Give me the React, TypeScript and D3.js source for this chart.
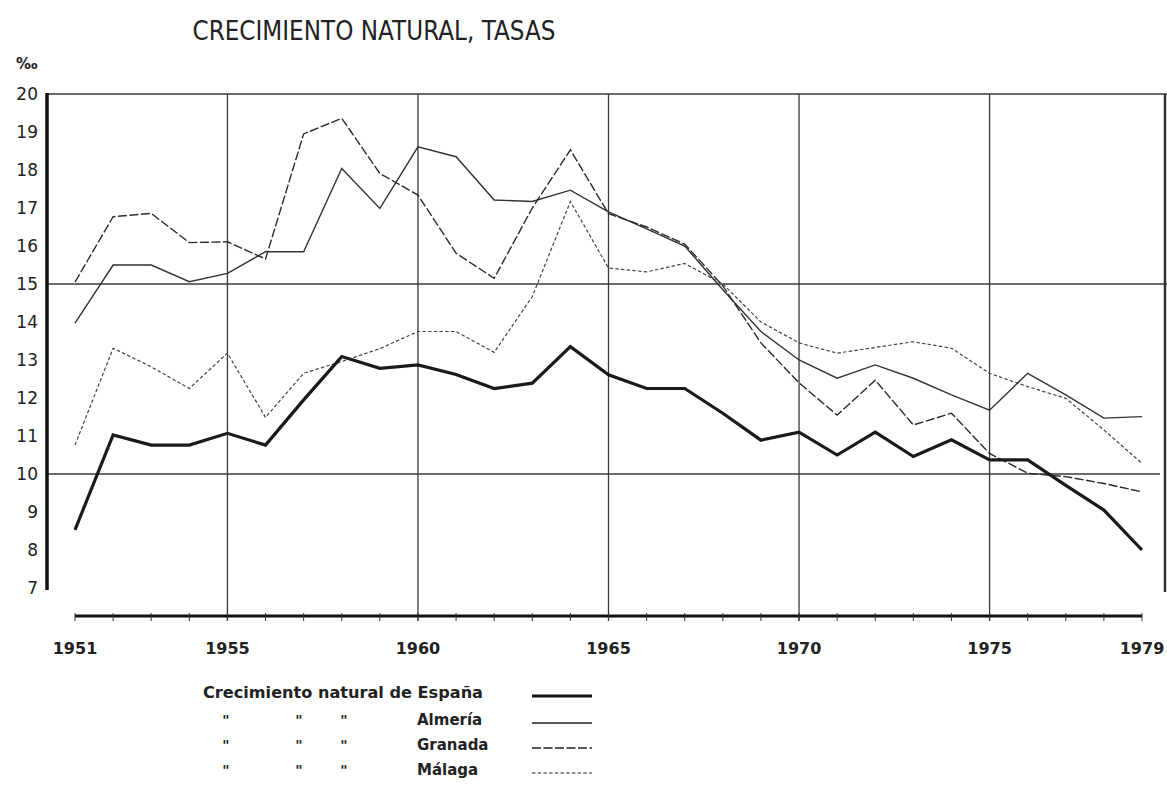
import React from "react";
import * as d3 from "d3";

const years: number[] = d3.range(1951, 1980);

const espana: number[] = [8.53, 11.03, 10.76, 10.76, 11.07, 10.76, 11.95, 13.09, 12.78, 12.87, 12.62, 12.25, 12.39, 13.35, 12.61, 12.25, 12.25, 11.6, 10.89, 11.1, 10.5, 11.1, 10.46, 10.9, 10.37, 10.37, 9.7, 9.05, 8.0];
const almeria: number[] = [13.97, 15.5, 15.5, 15.06, 15.28, 15.85, 15.85, 18.04, 16.99, 18.61, 18.35, 17.21, 17.17, 17.47, 16.9, 16.45, 16.0, 14.85, 13.75, 13.0, 12.52, 12.87, 12.52, 12.08, 11.68, 12.65, 12.08, 11.47, 11.51];
const granada: number[] = [15.05, 16.77, 16.86, 16.09, 16.11, 15.66, 18.95, 19.36, 17.91, 17.34, 15.81, 15.15, 17.0, 18.53, 16.85, 16.5, 16.05, 14.95, 13.45, 12.4, 11.55, 12.47, 11.29, 11.6, 10.54, 10.02, 9.93, 9.75, 9.53];
const malaga: number[] = [10.76, 13.31, 12.82, 12.25, 13.18, 11.49, 12.65, 12.96, 13.3, 13.75, 13.75, 13.2, 14.67, 17.17, 15.42, 15.32, 15.54, 15.0, 14.0, 13.45, 13.18, 13.33, 13.48, 13.31, 12.65, 12.3, 11.99, 11.16, 10.28];

const yTicks: number[] = [7, 8, 9, 10, 11, 12, 13, 14, 15, 16, 17, 18, 19, 20];
const xLabels: number[] = [1951, 1955, 1960, 1965, 1970, 1975, 1979];
const vGrid: number[] = [1955, 1960, 1965, 1970, 1975];
const hGrid: number[] = [20, 15, 10];

const title = "CRECIMIENTO NATURAL, TASAS";
const legendMain = "Crecimiento natural de España";
const legendNames: string[] = ["Almería", "Granada", "Málaga"];

export default function App() {
  const W = 1167, H = 806;
  const x = d3.scaleLinear().domain([1951, 1979]).range([75, 1142]);
  const y = d3.scaleLinear().domain([7, 20]).range([588, 94]);
  const line = d3.line<number>().x((_, i) => x(years[i])).y((d) => y(d));

  const font = "'DejaVu Sans', sans-serif";
  const ink = "#222";
  const series = [
    { vals: malaga, w: 1.2, dash: "3.5 2.2", color: "#444" },
    { vals: almeria, w: 1.4, dash: "", color: "#333" },
    { vals: granada, w: 1.4, dash: "9 2.5", color: "#2a2a2a" },
    { vals: espana, w: 3.2, dash: "", color: "#1a1a1a" },
  ];
  const legendRows = [
    { label: legendNames[0], w: 1.4, dash: "" },
    { label: legendNames[1], w: 1.4, dash: "9 2.5" },
    { label: legendNames[2], w: 1.2, dash: "3.5 2.2" },
  ];

  return (
    <svg width={W} height={H} style={{ position: "absolute", left: 0, top: 0, background: "#fff" }}>
      <rect x={0} y={0} width={W} height={H} fill="#fff" />
      <text x={374} y={40} textAnchor="middle" fontFamily={font} fontSize={26} fill={ink} textLength={363} lengthAdjust="spacingAndGlyphs">
        {title}
      </text>
      <text x={16} y={69} fontFamily={font} fontSize={15} fill={ink} fontWeight="bold">‰</text>

      {hGrid.map((v) => (
        <line key={"h" + v} x1={47} x2={v === 10 ? 1160 : 1167} y1={y(v)} y2={y(v)} stroke="#3a3a3a" strokeWidth={1.3} />
      ))}
      {vGrid.map((v) => (
        <line key={"v" + v} x1={x(v)} x2={x(v)} y1={y(20)} y2={621} stroke="#3a3a3a" strokeWidth={1.3} />
      ))}
      <line x1={1165} x2={1165} y1={y(20)} y2={592} stroke="#333" strokeWidth={2.5} />
      <line x1={47} x2={47} y1={y(20) - 1} y2={590} stroke="#111" strokeWidth={3.5} />
      {yTicks.map((t) => (
        <text key={"yt" + t} x={38} y={y(t)} dy="0.36em" textAnchor="end" fontFamily={font} fontSize={17} fill={ink}>
          {t}
        </text>
      ))}
      <line x1={x(1951)} x2={x(1979)} y1={616} y2={616} stroke="#111" strokeWidth={3.2} />
      {years.map((yr) => (
        <line key={"xt" + yr} x1={x(yr)} x2={x(yr)} y1={613} y2={621} stroke="#333" strokeWidth={1} />
      ))}
      {xLabels.map((yr) => (
        <text key={"xl" + yr} x={x(yr)} y={648} dy="0.36em" textAnchor="middle" fontFamily={font} fontSize={16} fontWeight="bold" fill={ink}>
          {yr}
        </text>
      ))}

      {series.map((s, i) => (
        <path key={"s" + i} d={line(s.vals) || ""} fill="none" stroke={s.color} strokeWidth={s.w} strokeDasharray={s.dash || undefined} strokeLinejoin="miter" />
      ))}

      <text x={203} y={693} dy="0.36em" fontFamily={font} fontSize={15} fontWeight="bold" fill={ink} textLength={280} lengthAdjust="spacingAndGlyphs">
        {legendMain}
      </text>
      <line x1={532} x2={592} y1={696} y2={696} stroke="#111" strokeWidth={3} />
      {legendRows.map((r, i) => {
        const yy = 720 + i * 25;
        return (
          <g key={"lg" + i}>
            {[226, 299, 344].map((dx) => (
              <text key={dx} x={dx} y={yy} dy="0.36em" textAnchor="middle" fontFamily={font} fontSize={14} fontWeight="bold" fill={ink}>
                "
              </text>
            ))}
            <text x={417} y={yy} dy="0.36em" fontFamily={font} fontSize={15} fontWeight="bold" fill={ink}>
              {r.label}
            </text>
            <line x1={532} x2={592} y1={yy + 3} y2={yy + 3} stroke="#222" strokeWidth={r.w} strokeDasharray={r.dash || undefined} />
          </g>
        );
      })}
    </svg>
  );
}
